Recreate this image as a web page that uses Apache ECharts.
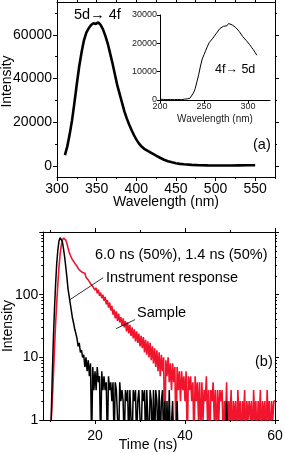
<!DOCTYPE html>
<html><head><meta charset="utf-8">
<script src="https://cdn.jsdelivr.net/npm/echarts@6/dist/echarts.min.js"></script>
<style>html,body{margin:0;padding:0;background:#fff}#c{width:285px;height:454px}</style>
</head><body><div id="c"></div>
<script>
// ---------- (a) emission spectrum ----------
const emWavelength = [310,313,316,319,322,325,328,331,334,337,340,343,346,349,352,355,358,361,364,367,370,373,376,379,382,385,388,391,394,397,400,403,406,410,415,420,425,430,435,440,445,450,455,460,470,480,490,500,510,520,530,540,550];
const emIntensity  = [5000,9000,14500,21000,29000,37500,45500,52000,57500,61000,63000,64500,65300,65000,65700,64500,62500,59500,56000,51500,47000,42000,37000,33000,29000,25000,21800,19000,16500,14200,12200,10500,9200,7900,6800,5800,4800,3800,2900,2200,1700,1300,1000,800,550,400,300,250,250,250,300,350,400];
// inset: excitation spectrum
const exWavelength = [200,204,208,212,216,220,224,228,231,234,236,238,240,242,244,246,248,250,252,254,256,258,260,262,264,266,268,270,272,274,276,278,280,282,284,286,288,290,292,294,296,298,300,302,304,306,308,310];
const exIntensity  = [300,200,100,200,100,200,100,300,400,600,1200,2500,4000,6500,9000,12000,14500,16000,17500,19000,20300,21000,21800,22300,23500,24000,25200,25000,26000,26500,26200,27000,27300,26500,26800,25600,25000,24200,23800,22400,22000,21000,20500,19500,18600,17800,16800,15800];

// ---------- (b) decay curves (TCSPC channels, 0.25 ns wide, starting at 10 ns) ----------
const timeStart = 10, timeStep = 0.25;
const sampleCounts = [
 0,0,2,5, 14,35,75,150, 280,440,610,740, 800,790,740,660, 560,480,430,390,
 360,335,318,300, 285,262,270,240, 248,225,215,220, 190,200,172,180, 150,160,135,142,
 118,128,105,120, 96,108,88,100, 80,92,70,82, 62,75,56,66, 48,58,42,54,
 38,50,36,44, 32,42,30,38, 26,36,24,33, 22,30,20,28, 18,26,17,24,
 15,22,14,21, 12,19,11,18, 10,17,9,15, 8,14,7,13, 6,12,5,11,
 6,10,0,9, 5,10,4,8, 3,8,4,7, 0,7,3,6, 2,6,3,5,
 2,6,0,5, 3,5,2,4, 0,5,2,4, 1,4,0,4, 1,3,2,5,
 1,3,0,3, 2,4,1,3, 0,3,1,3, 2,3,0,2, 1,4,0,2,
 1,3,0,2, 1,2,0,3, 1,2,0,2, 1,3,0,2, 1,2,1,2,
 0,3,1,2, 0,2,1,3, 0,2,1,2, 0,3,1,2, 0,2,1,2,
 2];
const irfCounts = [
 0,1,5,20, 60,150,320,520, 720,810,800,700, 540,400,280,190, 125,95,72,55,
 42,35,28,24, 20,15,17,12, 13,10,11,7, 10,6,9,5, 8,0,7,3,
 6,3,7,4, 5,0,6,3, 5,3,4,0, 5,3,4,2, 4,0,4,3,
 3,0,4,2, 3,2,0,3, 2,3,0,3, 3,0,3,2, 3,0,2,3,
 3,0,3,2, 3,0,3,1, 0,3,2,0, 3,0,3,2, 0,3,0,2,
 3,0,2,0, 2,0,3,0, 0,2,0,0, 0,2,0,0, 0,0,0,0,
 0,0,0,0, 0,0,0,0, 0,0,0,0, 0,0,0,0, 0,0,0,0,
 0,0,0,0, 0,0,0,0, 0,0,0,0, 0,0,0,0, 0,2,0,0,
 0,0,0,0, 0,0,0,0, 0,0,0,0, 0,0,0,0, 0,0,0,0,
 0,0,0,0, 0,0,0,0, 0,0,0,0, 0,0,0,0, 0,0,0,0,
 0];

// ---------- tick values ----------
const emXTicks = [300,350,400,450,500,550];
const emXMinor = [325,375,425,475,525,575];
const emYTicks = [0,20000,40000,60000];
const emYMinor = [10000,30000,50000,70000];
const exXTicks = [200,250,300];
const exYTicks = [0,10000,20000,30000];
const tXTicks = [20,40,60];
const tXMinor = [10,30,50];
const tYTicks = [1,10,100];
const tYMajorTicks = [1,10,100,1000];
const tYMinor = [2,3,4,5,6,7,8,9,20,30,40,50,60,70,80,90,200,300,400,500,600,700,800,900];

const FONT = '"Liberation Sans", Arial, sans-serif';
const chart = echarts.init(document.getElementById('c'), null, {renderer: 'canvas'});

function ax(o) {
  return {
    type: o.type || 'value', gridIndex: o.grid, position: o.pos,
    min: o.min, max: o.max, logBase: 10,
    name: o.name || '', nameLocation: 'middle', nameGap: o.nameGap || 0, nameMoveOverlap: false,
    nameTextStyle: Object.assign({fontFamily: FONT, fontSize: 14, color: '#000'}, o.nameStyle || {}),
    axisLine: {show: o.line !== false, onZero: false, lineStyle: {color: '#000', width: 1}},
    axisTick: {show: true, inside: false, length: o.len || 4, customValues: o.ticks, lineStyle: {color: '#000', width: 1}},
    axisLabel: o.labels ? {show: true, customValues: o.labels, margin: o.margin || 5, fontFamily: FONT, fontSize: o.fs || 14, color: o.lc || '#000',
      formatter: v => String(v)} : {show: false},
    splitLine: {show: false}, minorTick: {show: false}, silent: true
  };
}

const plotCount = c => (c > 0 ? c : 0.4); // zero counts fall below the log axis floor, as in the original plot
const sampleData = sampleCounts.map((c, i) => [timeStart + i * timeStep, plotCount(c)]);
const irfData = irfCounts.map((c, i) => [timeStart + i * timeStep, plotCount(c)]);

const option = {
  animation: false,
  backgroundColor: '#fff',
  grid: [
    {left: 57, top: 2, width: 218, height: 175, containLabel: false, outerBoundsMode: 'none'},
    {left: 160, top: 15, width: 110, height: 85, containLabel: false, outerBoundsMode: 'none'},
    {left: 43.25, top: 232, width: 231.75, height: 188, containLabel: false, outerBoundsMode: 'none'}
  ],
  xAxis: [
    ax({grid: 0, pos: 'bottom', min: 300, max: 575, ticks: emXTicks, labels: emXTicks, name: 'Wavelength (nm)', nameGap: 18}),
    ax({grid: 0, pos: 'top', min: 300, max: 575, ticks: emXTicks}),
    ax({grid: 0, pos: 'bottom', min: 300, max: 575, ticks: emXMinor, len: 2, line: false}),
    ax({grid: 0, pos: 'top', min: 300, max: 575, ticks: emXMinor, len: 2, line: false}),
    ax({grid: 1, pos: 'bottom', min: 200, max: 325, ticks: exXTicks, labels: exXTicks, len: 3, fs: 9, margin: 2, lc: '#222', name: 'Wavelength (nm)', nameGap: 14, nameStyle: {fontSize: 10, color: '#222'}}),
    ax({grid: 2, pos: 'bottom', min: 8.5, max: 60, ticks: tXTicks, labels: tXTicks, margin: 9, name: 'Time (ns)', nameGap: 18, nameStyle: {padding: [0, 22, 0, 0]}}),
    ax({grid: 2, pos: 'top', min: 8.5, max: 60, ticks: tXTicks}),
    ax({grid: 2, pos: 'bottom', min: 8.5, max: 60, ticks: tXMinor, len: 2, line: false}),
    ax({grid: 2, pos: 'top', min: 8.5, max: 60, ticks: tXMinor, len: 2, line: false})
  ],
  yAxis: [
    ax({grid: 0, pos: 'left', min: -5000, max: 75000, ticks: emYTicks, labels: emYTicks, name: 'Intensity', nameGap: 43, nameStyle: {padding: [0, 0, 0, 16]}}),
    ax({grid: 0, pos: 'right', min: -5000, max: 75000, ticks: emYTicks}),
    ax({grid: 0, pos: 'left', min: -5000, max: 75000, ticks: emYMinor, len: 2, line: false}),
    ax({grid: 0, pos: 'right', min: -5000, max: 75000, ticks: emYMinor, len: 2, line: false}),
    ax({grid: 1, pos: 'left', min: 0, max: 30000, ticks: exYTicks, labels: exYTicks, len: 3, fs: 9, margin: 3, lc: '#222'}),
    ax({grid: 2, pos: 'left', type: 'log', min: 1, max: 1000, ticks: tYMajorTicks, labels: tYTicks, name: 'Intensity', nameGap: 28}),
    ax({grid: 2, pos: 'right', type: 'log', min: 1, max: 1000, ticks: tYMajorTicks}),
    ax({grid: 2, pos: 'left', type: 'log', min: 1, max: 1000, ticks: tYMinor, len: 2, line: false}),
    ax({grid: 2, pos: 'right', type: 'log', min: 1, max: 1000, ticks: tYMinor, len: 2, line: false})
  ],
  series: [
    {type: 'line', xAxisIndex: 0, yAxisIndex: 0, showSymbol: false, symbol: 'none', silent: true,
     lineStyle: {color: '#000', width: 2.6}, data: emWavelength.map((w, i) => [w, emIntensity[i]])},
    {type: 'line', xAxisIndex: 4, yAxisIndex: 4, showSymbol: false, symbol: 'none', silent: true,
     lineStyle: {color: '#000', width: 1}, data: exWavelength.map((w, i) => [w, exIntensity[i]])},
    {type: 'line', xAxisIndex: 5, yAxisIndex: 5, showSymbol: false, symbol: 'none', silent: true,
     lineStyle: {color: '#f0142d', width: 1.6}, data: sampleData,
     markLine: {silent: true, symbol: 'none', label: {show: false}, lineStyle: {color: '#000', width: 0.8, type: 'solid'},
       data: [[{coord: [28.9, 40]}, {coord: [24.7, 28.7]}]]}},
    {type: 'line', xAxisIndex: 5, yAxisIndex: 5, showSymbol: false, symbol: 'none', silent: true,
     lineStyle: {color: '#000', width: 1.5}, data: irfData,
     markLine: {silent: true, symbol: 'none', label: {show: false}, lineStyle: {color: '#000', width: 0.8, type: 'solid'},
       data: [[{coord: [21.8, 186]}, {coord: [14.4, 83]}]]}}
  ],
  graphic: [
    {type: 'text', x: 74, y: 15, style: {text: '5d→ 4f', font: '14.5px ' + FONT, fill: '#000', verticalAlign: 'middle'}},
    {type: 'text', x: 215, y: 70, style: {text: '4f→ 5d', font: '12.5px ' + FONT, fill: '#000', verticalAlign: 'middle'}},
    {type: 'text', x: 253, y: 145, style: {text: '(a)', font: '14.5px ' + FONT, fill: '#000', verticalAlign: 'middle'}},
    {type: 'text', x: 95, y: 255, style: {text: '6.0 ns (50%), 1.4 ns (50%)', font: '14.5px ' + FONT, fill: '#000', verticalAlign: 'middle'}},
    {type: 'text', x: 106, y: 278, style: {text: 'Instrument response', font: '14.5px ' + FONT, fill: '#000', verticalAlign: 'middle'}},
    {type: 'text', x: 137, y: 313, style: {text: 'Sample', font: '14.5px ' + FONT, fill: '#000', verticalAlign: 'middle'}},
    {type: 'text', x: 255, y: 362, style: {text: '(b)', font: '14.5px ' + FONT, fill: '#000', verticalAlign: 'middle'}}
  ]
};
chart.setOption(option);
</script></body></html>
